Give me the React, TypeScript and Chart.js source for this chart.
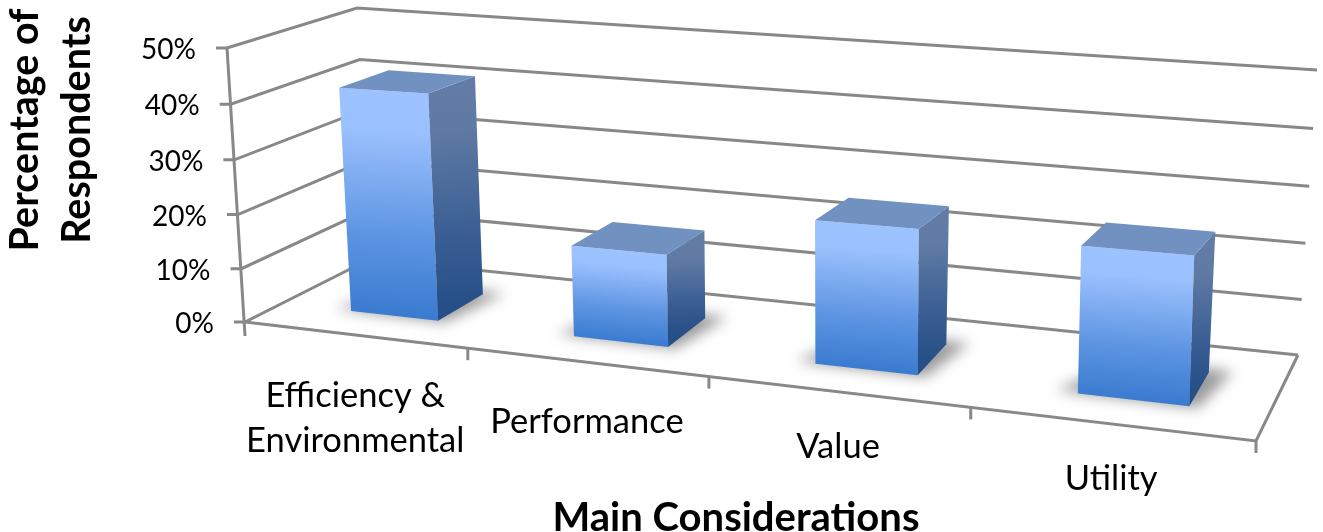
import React, { useEffect, useRef } from "react";
import { Chart, registerables } from "chart.js";

Chart.register(...registerables);

const categories = [["Efficiency &", "Environmental"], ["Performance"], ["Value"], ["Utility"]];
const seriesValues = [41.4, 16.3, 24.5, 24];
const yTicks = [0, 10, 20, 30, 40, 50];
const xTitle = "Main Considerations";
const yTitle = ["Percentage of", "Respondents"];

type Pt = [number, number];
// corners of the projected box: f/b = front/back, b/t = bottom/top, l/r = left/right
const FBL: Pt = [245, 322], FBR: Pt = [1256, 441], BBL: Pt = [370, 259], BBR: Pt = [1298, 355];
const FTL: Pt = [227, 48], FTR: Pt = [1266, 100], BTL: Pt = [357, 8], BTR: Pt = [1317, 70];
const WARP = 0.848;
const VWARP = 0.967;
const BAR_SHIFT = 0.006;
const Z0 = 0.3, Z1 = 0.7;
const FONT = "Lato";
const LABEL_DY = [61, 60, 55, 55];

const mix = (a: Pt, b: Pt, t: number): Pt => [a[0] + (b[0] - a[0]) * t, a[1] + (b[1] - a[1]) * t];
const warp = (u: number) => (WARP * u) / (1 - (1 - WARP) * u);
const vwarp = (v: number) => (VWARP * v) / (1 - (1 - VWARP) * v);
function P(u: number, v: number, z: number): Pt {
  const s = warp(u);
  const fb = mix(FBL, FBR, s), ft = mix(FTL, FTR, s), bb = mix(BBL, BBR, s), bt = mix(BTL, BTR, s);
  return mix(mix(fb, bb, z), mix(ft, bt, z), vwarp(v));
}
function line(ctx: CanvasRenderingContext2D, pts: Pt[]) {
  ctx.beginPath();
  pts.forEach((p, i) => (i ? ctx.lineTo(p[0], p[1]) : ctx.moveTo(p[0], p[1])));
  ctx.stroke();
}
function poly(ctx: CanvasRenderingContext2D, pts: Pt[]) {
  ctx.beginPath();
  pts.forEach((p, i) => (i ? ctx.lineTo(p[0], p[1]) : ctx.moveTo(p[0], p[1])));
  ctx.closePath();
}
// gradient running perpendicular to the top edge a-b of a face, down to point c
function faceGradient(ctx: CanvasRenderingContext2D, a: Pt, b: Pt, c: Pt) {
  const m = mix(a, b, 0.5);
  const dx = b[0] - a[0], dy = b[1] - a[1];
  const l = Math.hypot(dx, dy);
  const nx = -dy / l, ny = dx / l;
  const d = (c[0] - m[0]) * nx + (c[1] - m[1]) * ny;
  return ctx.createLinearGradient(m[0], m[1], m[0] + nx * d, m[1] + ny * d);
}

const box3d = {
  id: "box3d",
  beforeDatasetsDraw(chart: any) {
    const ctx: CanvasRenderingContext2D = chart.ctx;
    const { x: xs, y: ys } = chart.scales;
    const nv = (val: number) => (ys.bottom - ys.getPixelForValue(val)) / (ys.bottom - ys.top);
    ctx.save();
    ctx.strokeStyle = "#888888";
    ctx.lineWidth = 3;
    ctx.lineJoin = "miter";
    // walls and value grid
    yTicks.forEach((t) => {
      const v = nv(t);
      const f = P(0, v, 0), b = P(0, v, 1), r = P(1, v, 1);
      line(ctx, [[f[0] - 11, f[1]], f, b, r]);
    });
    line(ctx, [P(0, 1, 0), [FBL[0], FBL[1] + 14]]);
    // floor
    line(ctx, [P(0, 0, 0), P(1, 0, 0), P(1, 0, 1)]);
    categories.forEach((_, i) => {
      const p = P((i + 1) / categories.length, 0, 0);
      line(ctx, [p, [p[0], p[1] + 12]]);
    });
    // value labels
    ctx.fillStyle = "#000";
    ctx.font = `28px ${FONT}`;
    ctx.textAlign = "right";
    ctx.textBaseline = "middle";
    ys.ticks.forEach((t: any) => {
      const f = P(0, nv(t.value), 0);
      ctx.fillText(t.label, f[0] - 31, f[1] + 2);
    });
    // category labels
    ctx.font = `34.5px ${FONT}`;
    ctx.textAlign = "center";
    categories.forEach((lines, i) => {
      const p = P((xs.getPixelForValue(i) - xs.left) / xs.width, 0, 0);
      lines.forEach((l, k) => ctx.fillText(l, p[0] + 1, p[1] + LABEL_DY[i] + k * 45));
    });
    // axis titles
    ctx.font = `bold 40px ${FONT}`;
    ctx.fillText(xTitle, 736, 518);
    ctx.font = `bold 39.5px ${FONT}`;
    ctx.translate(50, 130);
    ctx.rotate(-Math.PI / 2);
    yTitle.forEach((l, k) => ctx.fillText(l, 0, -25 + k * 52));
    ctx.restore();
  },
  afterDatasetsDraw(chart: any) {
    const ctx: CanvasRenderingContext2D = chart.ctx;
    const { x: xs, y: ys } = chart.scales;
    const els = chart.getDatasetMeta(0).data;
    els.forEach((el: any) => {
      const u0 = (el.x - el.width / 2 - xs.left) / xs.width + BAR_SHIFT;
      const u1 = (el.x + el.width / 2 - xs.left) / xs.width + BAR_SHIFT;
      const v = (ys.bottom - el.y) / (ys.bottom - ys.top);
      const f0 = P(u0, 0, Z0), f1 = P(u1, 0, Z0), b1 = P(u1, 0, Z1);
      const t0 = P(u0, v, Z0), t1 = P(u1, v, Z0), t2 = P(u1, v, Z1), t3 = P(u0, v, Z1);
      // soft floor shadow
      ctx.save();
      ctx.filter = "blur(7px)";
      ctx.fillStyle = "rgba(70,70,70,0.55)";
      poly(ctx, [P(u0 - 0.02, 0, Z0 + 0.01), P(u1 + 0.008, 0, Z0 - 0.01), P(u1 + 0.02, 0, Z1 + 0.04), P(u0 + 0.02, 0, Z1 + 0.04)]);
      ctx.fill();
      ctx.restore();
      // front face
      const gf = faceGradient(ctx, t0, t1, mix(f0, f1, 0.5));
      gf.addColorStop(0, "#9cc3ff");
      gf.addColorStop(0.18, "#9ac0fd");
      gf.addColorStop(0.65, "#5c94e2");
      gf.addColorStop(1, "#3a7bd0");
      ctx.fillStyle = gf;
      poly(ctx, [t0, t1, f1, f0]);
      ctx.fill();
      // side face
      const st = mix(t1, t2, 0.5), sb = mix(f1, b1, 0.5);
      const gs = ctx.createLinearGradient(st[0], st[1], sb[0], sb[1]);
      gs.addColorStop(0, "#627ca6");
      gs.addColorStop(0.2, "#5f7aa4");
      gs.addColorStop(0.65, "#3b5f94");
      gs.addColorStop(1, "#264f87");
      ctx.fillStyle = gs;
      poly(ctx, [t1, t2, b1, f1]);
      ctx.fill();
      // top face
      ctx.fillStyle = "#7191c0";
      poly(ctx, [t0, t1, t2, t3]);
      ctx.fill();
    });
  },
};

export default function App() {
  const ref = useRef<HTMLCanvasElement>(null);
  useEffect(() => {
    document.body.style.margin = "0";
    const chart = new Chart(ref.current!, {
      type: "bar",
      data: {
        labels: categories.map((c) => c.join(" ")),
        datasets: [{ data: seriesValues, backgroundColor: "transparent", categoryPercentage: 0.4, barPercentage: 1 }],
      },
      options: {
        responsive: false,
        animation: false,
        devicePixelRatio: 1,
        plugins: { legend: { display: false }, tooltip: { enabled: false } },
        scales: {
          x: { display: false },
          y: { display: false, min: 0, max: 50, ticks: { stepSize: 10, callback: (v: any) => `${v}%` } },
        },
      },
      plugins: [box3d],
    } as any);
    return () => chart.destroy();
  }, []);
  return <canvas ref={ref} width={1323} height={532} style={{ display: "block" }} />;
}
